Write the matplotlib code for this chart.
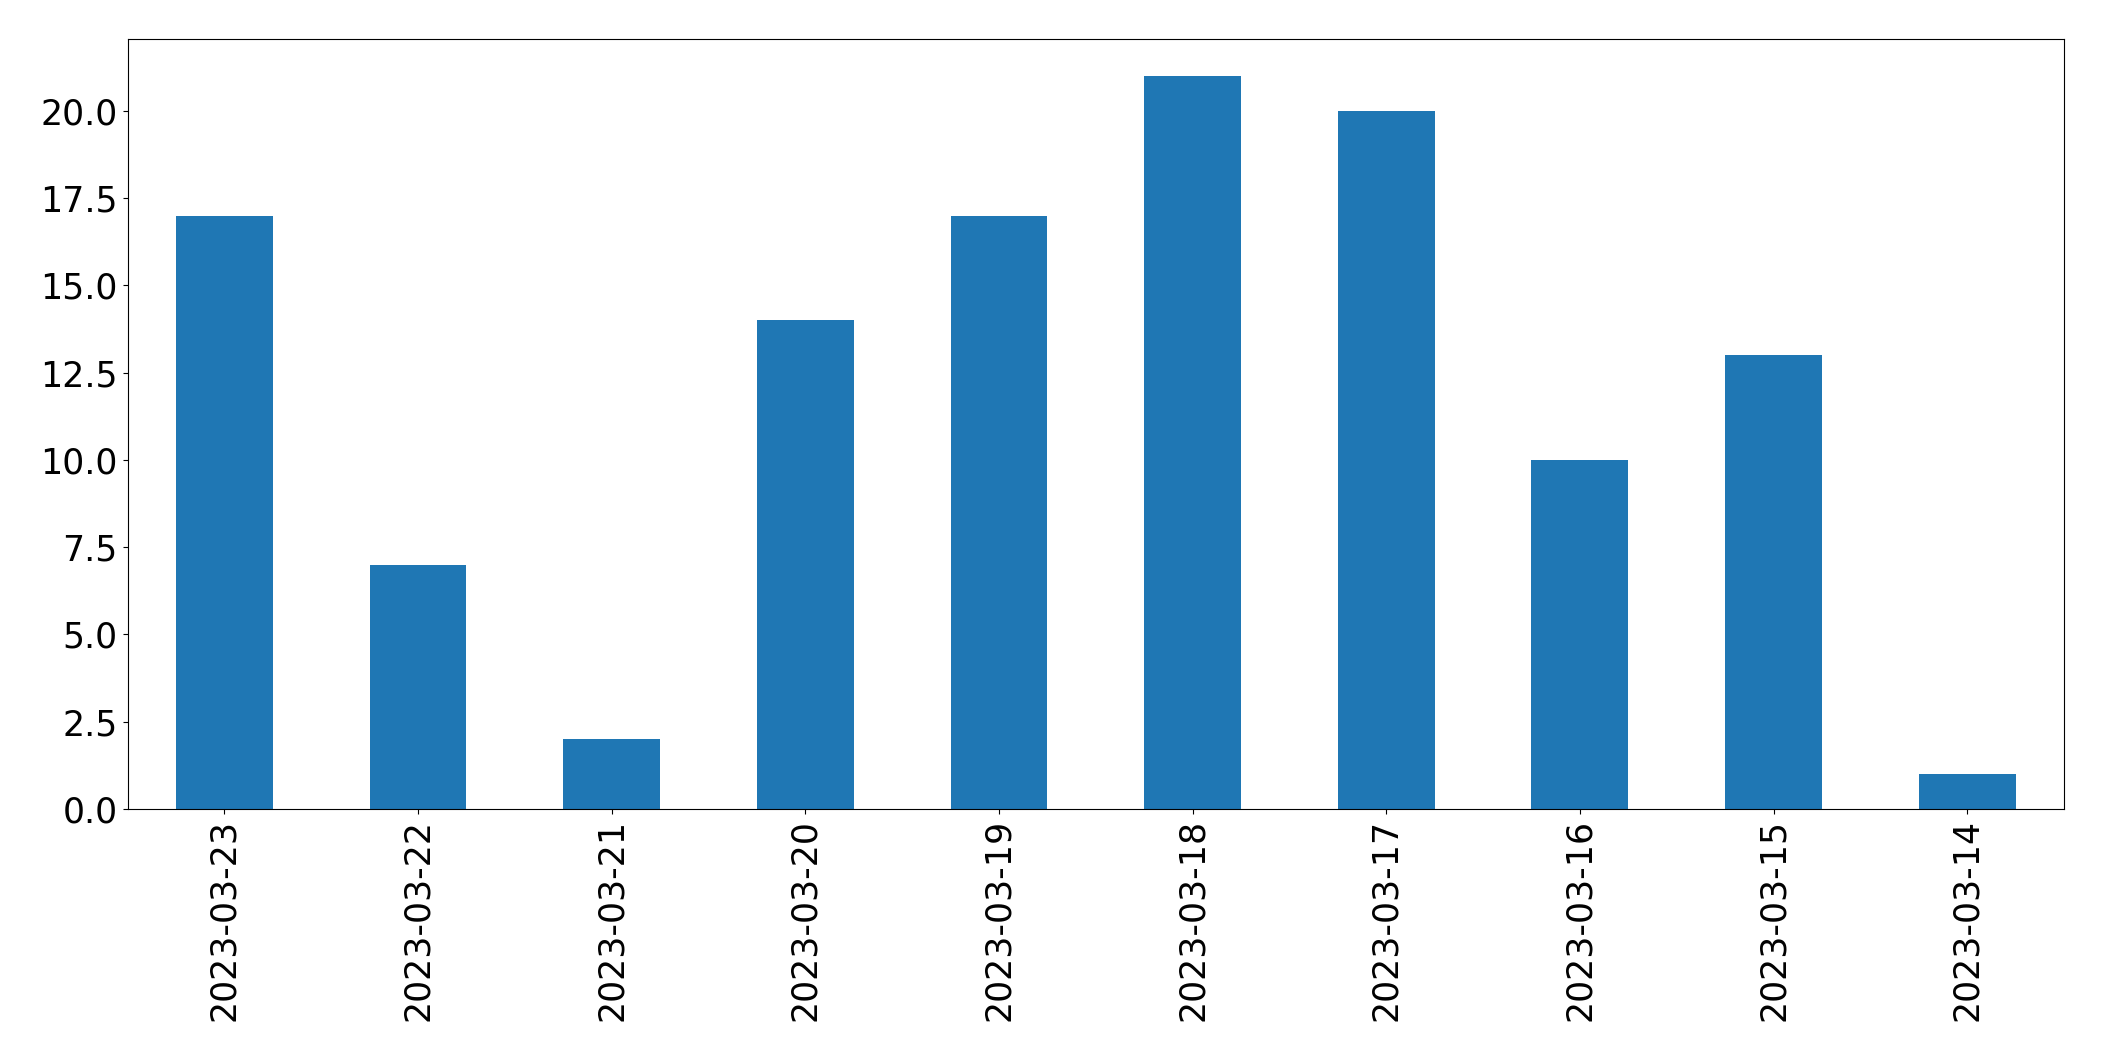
import matplotlib
matplotlib.use("Agg")
import matplotlib.pyplot as plt

dates = ['2023-03-23', '2023-03-22', '2023-03-21', '2023-03-20', '2023-03-19',
         '2023-03-18', '2023-03-17', '2023-03-16', '2023-03-15', '2023-03-14']
counts = [17, 7, 2, 14, 17, 21, 20, 10, 13, 1]

fig = plt.figure(figsize=(21.04, 10.61), dpi=100)
ax = fig.add_axes([0.0606, 0.2375, 0.9204, 0.7255])

positions = range(len(dates))
ax.bar(positions, counts, width=0.5, color='#1f77b4')
ax.set_xlim(-0.5, len(dates) - 0.5)
ax.set_xticks(list(positions))
ax.set_xticklabels(dates, rotation=90)
ax.tick_params(labelsize=25)

fig.savefig('out.png', dpi=100)
